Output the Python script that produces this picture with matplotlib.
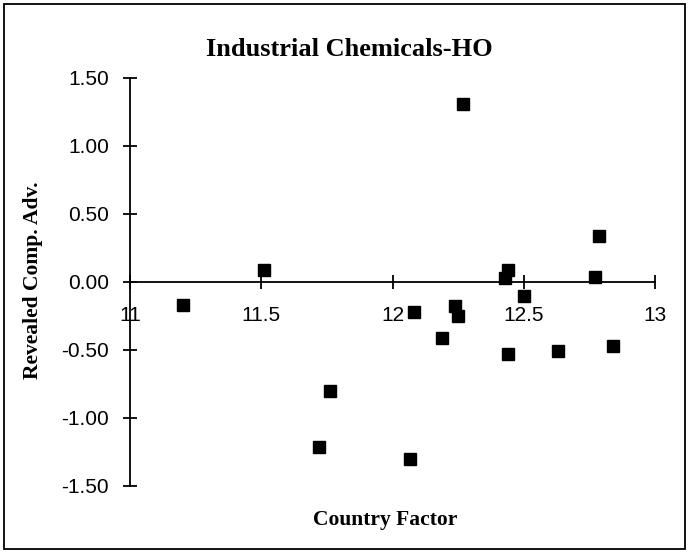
import matplotlib
matplotlib.use("Agg")
import matplotlib.pyplot as plt
from matplotlib.patches import Rectangle

# country factor vs revealed comparative advantage
country_factor = [11.20, 11.51, 11.72, 11.76, 12.065, 12.08, 12.19, 12.24, 12.25,
                  12.27, 12.43, 12.44, 12.44, 12.50, 12.63, 12.77, 12.785, 12.84]
rca = [-0.17, 0.09, -1.21, -0.80, -1.30, -0.22, -0.41, -0.18, -0.25,
       1.31, 0.03, 0.09, -0.53, -0.10, -0.51, 0.04, 0.34, -0.47]

x_ticks = [11, 11.5, 12, 12.5, 13]
x_tick_labels = ["11", "11.5", "12", "12.5", "13"]
y_ticks = [-1.5, -1.0, -0.5, 0.0, 0.5, 1.0, 1.5]
y_tick_labels = ["-1.50", "-1.00", "-0.50", "0.00", "0.50", "1.00", "1.50"]

serif = "Liberation Serif"
sans = "Liberation Sans"

fig = plt.figure(figsize=(6.88, 5.52), dpi=100)
ax = fig.add_axes([0.189, 0.1196, 0.763, 0.7391])

ax.plot(country_factor, rca, linestyle="none", marker="s", markersize=8,
        color="black")

ax.set_xlim(11, 13)
ax.set_ylim(-1.5, 1.5)

# x axis crosses at zero, no box
ax.spines["bottom"].set_position(("data", 0))
ax.spines["top"].set_visible(False)
ax.spines["right"].set_visible(False)
for s in ("left", "bottom"):
    ax.spines[s].set_linewidth(1.3)

ax.set_xticks(x_ticks)
ax.set_xticklabels(x_tick_labels, fontfamily=sans, fontsize=15)
ax.set_yticks(y_ticks)
ax.set_yticklabels(y_tick_labels, fontfamily=sans, fontsize=15)
ax.tick_params(axis="both", direction="inout", length=10, width=1.3)
ax.tick_params(axis="x", pad=12)
ax.tick_params(axis="y", pad=10)

fig.text(0.507, 0.911, "Industrial Chemicals-HO", ha="center", va="center",
         fontfamily=serif, fontweight="bold", fontsize=19)
fig.text(0.56, 0.058, "Country Factor", ha="center", va="center",
         fontfamily=serif, fontweight="bold", fontsize=15.5)
fig.text(0.048, 0.493, "Revealed Comp. Adv.", ha="center", va="center",
         rotation=90, fontfamily=serif, fontweight="bold", fontsize=15.5)

# frame round the whole chart
fig.patches.append(Rectangle((0.006, 0.006), 0.989, 0.987, transform=fig.transFigure,
                             fill=False, edgecolor="black", linewidth=1.3))

plt.savefig("out.png", dpi=100)
